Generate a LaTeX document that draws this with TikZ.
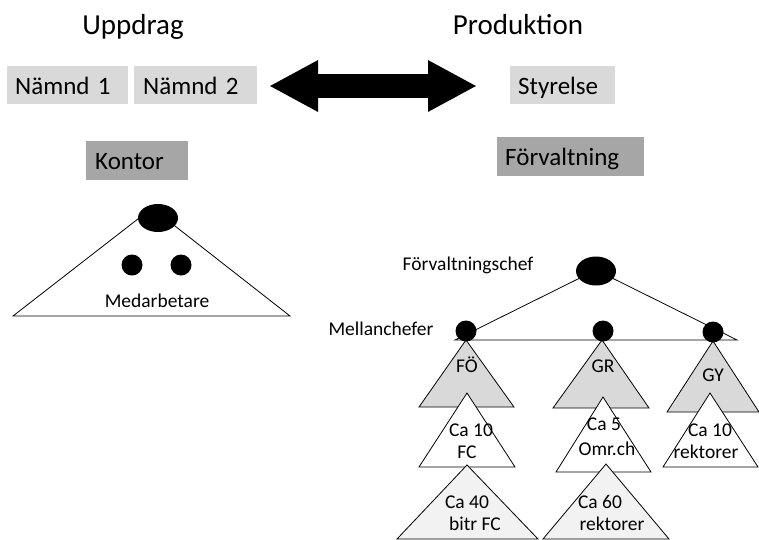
\documentclass[tikz,border=0pt]{standalone}
\usepackage{fontspec}
\setmainfont{Carlito}
\usetikzlibrary{positioning,arrows.meta,shapes.geometric}
\definecolor{ljus}{HTML}{D9D9D9}
\definecolor{mork}{HTML}{A6A6A6}
\definecolor{blek}{HTML}{F2F2F2}
\tikzstyle{rubrik}=[font=\fontsize{29}{34}\selectfont, anchor=base, inner sep=0pt]
\tikzstyle{ruta}=[fill=ljus, anchor=north west, inner xsep=8pt, inner ysep=0pt, minimum height=38pt, text height=20pt, text depth=2pt, align=left, font=\fontsize{25}{30}\selectfont]
\tikzstyle{etikett}=[font=\fontsize{19.5}{23}\selectfont, anchor=base, inner sep=0pt]
\tikzstyle{chef}=[ellipse, fill=black, inner sep=0pt, minimum width=40pt, minimum height=28pt]
\tikzstyle{mellan}=[circle, fill=black, inner sep=0pt, minimum size=21pt]
\tikzstyle{tri}=[draw=black, line width=0.8pt, line join=miter]

\begin{document}
\begin{tikzpicture}[x=1pt,y=-1pt]
   \useasboundingbox (0,0) rectangle (759,539);
   % rubriker och rutor
   \node[rubrik] (uppdrag) at (133,34) {Uppdrag};
   \node[rubrik] (produktion) at (518,34) {Produktion};
   \node[ruta,text width=105pt] (namnd1) at (7,66) {Nämnd 1};
   \node[ruta,text width=105pt,inner xsep=9pt] (namnd2) at (134,66) {Nämnd 2};
   \node[ruta,text width=89pt] (styrelse) at (510,66) {Styrelse};
   \node[ruta,fill=mork,text width=84pt,inner xsep=9pt,minimum height=39pt] (kontor) at (86,141) {Kontor};
   \node[ruta,fill=mork,text width=131pt,minimum height=39pt] (forvaltning) at (497,137) {Förvaltning};
   \coordinate (pilv) at (269,86);
   \coordinate (pilh) at (477,86);
   \draw[line width=24pt, {Triangle[length=49pt,width=48pt]}-{Triangle[length=49pt,width=48pt]}] (pilv) -- (pilh);

   % kontoret
   \coordinate (kt) at (152,208);
   \coordinate (kv) at (13,316);
   \coordinate (kh) at (290,316);
   \draw[tri,fill=white] (kt) -- (kv) -- (kh) -- cycle;
   \node[chef] (kchef) at (158,218) {};
   \node[mellan] (m1) at (132,265) {};
   \node[mellan] (m2) at (181,265) {};
   \node[etikett] (medarb) at (157,307) {Medarbetare};

   % förvaltningen
   \node[etikett] (fchtext) at (468,270) {Förvaltningschef};
   \node[etikett] (mchtext) at (381,335) {Mellanchefer};
   \coordinate (fv) at (455,340);
   \coordinate (fh) at (737,340);
   \draw[tri] (596,270) coordinate (ft) -- (fv) -- (fh) -- cycle;
   \draw[tri,fill=ljus] (466,340) -- (419,407) -- (514,407) -- cycle;
   \draw[tri,fill=ljus] (602,340) -- (553,408) -- (649,408) -- cycle;
   \draw[tri,fill=ljus] (713,341) -- (667,412) -- (759,412) -- cycle;
   \node[etikett] (fo) at (467,372) {FÖ};
   \node[etikett] (gr) at (603,372) {GR};
   \node[etikett] (gy) at (713,381) {GY};
   \draw[tri,fill=white] (467,393) -- (419,467) -- (515,467) -- cycle;
   \draw[tri,fill=white] (603,397) -- (556,472) -- (651,472) -- cycle;
   \draw[tri,fill=white] (710,393) -- (663,467) -- (758,467) -- cycle;
   \node[etikett] (fc10) at (471,436) {Ca 10};
   \node[etikett] (fc) at (467,458) {FC};
   \node[etikett] (om5) at (604,430) {Ca 5};
   \node[etikett] (om) at (607,455) {Omr.ch};
   \node[etikett] (gy10) at (710,436) {Ca 10};
   \node[etikett] (gyrek) at (706,458) {rektorer};
   \begin{scope}
      \clip (0,0) rectangle (759,539);
      \draw[tri,fill=blek] (467,465) -- (397,539) -- (538,539) -- cycle;
      \draw[tri,fill=blek] (606,464) -- (543,539) -- (669,539) -- cycle;
   \end{scope}
   \node[etikett] (fc40) at (467,508) {Ca 40};
   \node[etikett] (bitr) at (475,530) {bitr FC};
   \node[etikett] (gr60) at (600,508) {Ca 60};
   \node[etikett] (grrek) at (612,530) {rektorer};
   \node[chef,minimum height=29pt] (fchef) at (596,271) {};
   \node[mellan] (fom) at (466,331) {};
   \node[mellan] (grm) at (603,331) {};
   \node[mellan] (gym) at (713,332) {};
\end{tikzpicture}
\end{document}
